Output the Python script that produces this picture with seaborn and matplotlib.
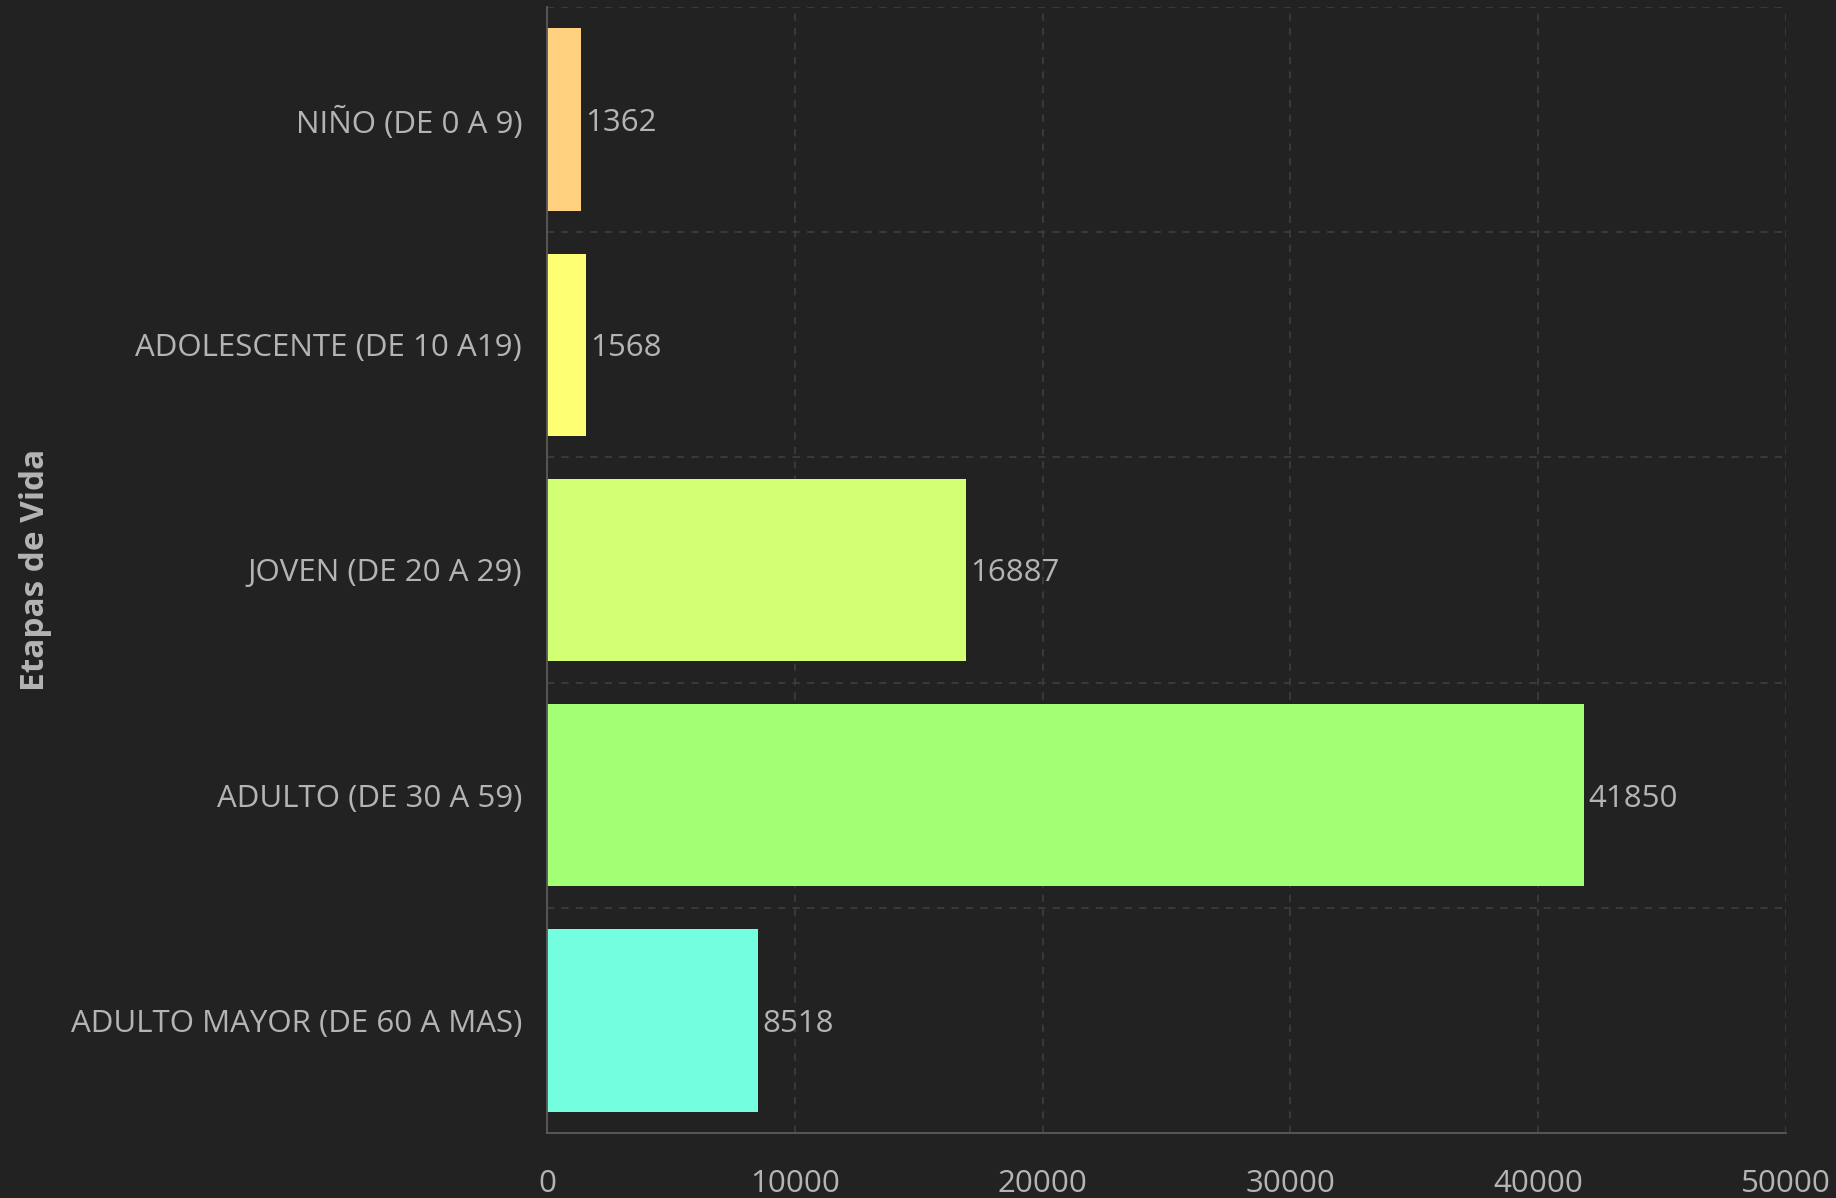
import matplotlib
matplotlib.use("Agg")
import matplotlib.pyplot as plt
import numpy as np
import seaborn as sns

# data
etapas = ["NIÑO (DE 0 A 9)", "ADOLESCENTE (DE 10 A19)", "JOVEN (DE 20 A 29)",
          "ADULTO (DE 30 A 59)", "ADULTO MAYOR (DE 60 A MAS)"]
valores = [1362, 1568, 16887, 41850, 8518]
colores = ["#ffd17f", "#ffff73", "#d2ff73", "#a3ff73", "#73ffdf"]
x_ticks = [0, 10000, 20000, 30000, 40000, 50000]

bg = "#222222"
txt = "#b4b4b4"
grid = "#3c3c3c"

sns.set_theme(style="dark")
plt.rcParams['font.family'] = ['Open Sans', 'DejaVu Sans']

fig = plt.figure(figsize=(18.36, 11.98), dpi=100, facecolor=bg)
ax = fig.add_axes([0.298, 0.0543, 0.6748, 0.9399])
ax.set_facecolor(bg)

sns.barplot(x=valores, y=etapas, hue=etapas, palette=colores, orient="h",
            width=0.81, saturation=1, legend=False, linewidth=0, ax=ax)

for cont in ax.containers:
    labels = ax.bar_label(cont, fmt="%d", padding=3, color=txt, fontsize=22.5)
    for t in labels:
        t.set_verticalalignment("center_baseline")

ax.set_xlim(0, 50000)
ax.set_ylim(4.5, -0.5)
ax.set_xticks(x_ticks)
ax.set_xticklabels([str(t) for t in x_ticks])
ax.set_yticks(np.arange(-0.5, 5, 1), minor=True)

ax.grid(False)
ax.xaxis.grid(True, which="major", color=grid, linestyle=(0, (4, 4)), linewidth=1.3)
ax.yaxis.grid(True, which="minor", color=grid, linestyle=(0, (4, 4)), linewidth=1.3)
ax.set_axisbelow(True)

for s in ["top", "right"]:
    ax.spines[s].set_visible(False)
for s in ["left", "bottom"]:
    ax.spines[s].set_color("#5a5a5a")
    ax.spines[s].set_linewidth(1.3)

ax.tick_params(axis="both", which="major", colors="#5a5a5a", labelcolor=txt,
               labelsize=22.5, length=8, width=1.2, direction="out", pad=10)
ax.tick_params(axis="y", which="minor", length=0)
ax.tick_params(axis="x", pad=18)

ax.set_xlabel("")
ax.set_ylabel("Etapas de Vida", color=txt, fontsize=24, fontweight="bold")
ax.yaxis.set_label_coords(-0.40, 0.5)

fig.savefig("out.png", dpi=100, facecolor=bg)
